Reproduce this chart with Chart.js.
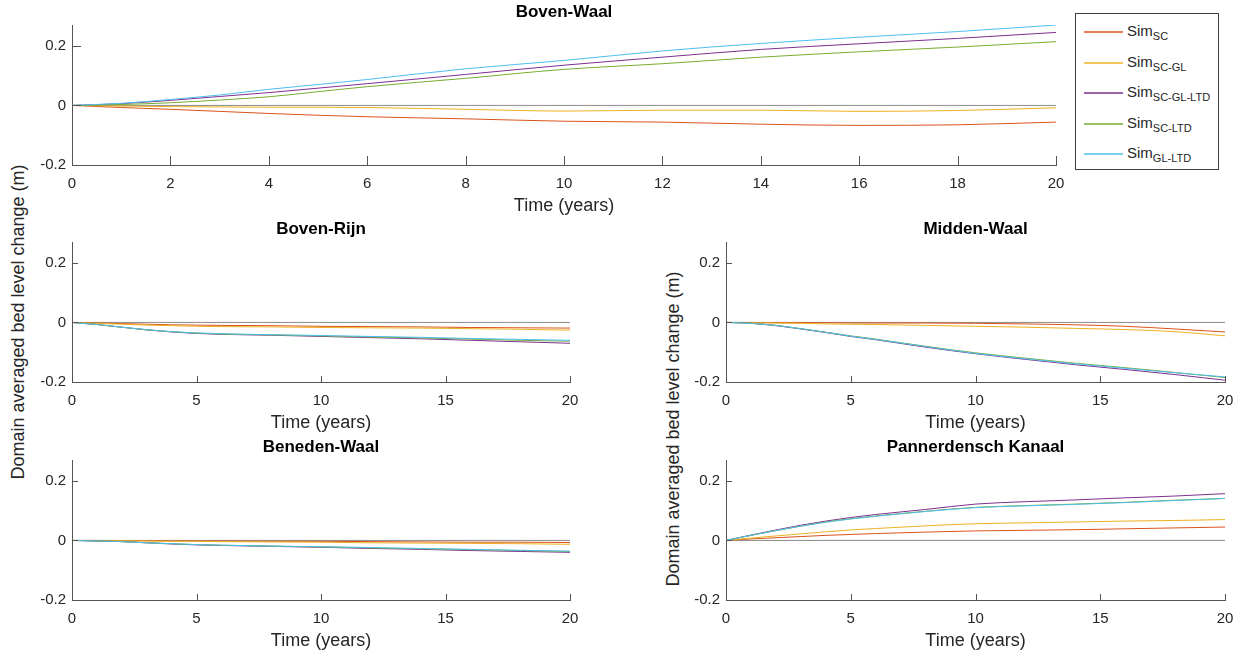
<!DOCTYPE html>
<html>
<head>
<meta charset="utf-8">
<script src="https://cdn.jsdelivr.net/npm/chart.js@4.4.1/dist/chart.umd.min.js"></script>
<style>
  body { margin: 0; background: #fff; width: 1242px; height: 655px; position: relative; overflow: hidden;
         font-family: "Liberation Sans", Arial, sans-serif; }
  canvas { position: absolute; }
  .ylab { position: absolute; width: 400px; height: 22px; line-height: 22px; text-align: center;
          font-size: 18px; color: #262626; transform: rotate(-90deg); white-space: nowrap; }
  #legend { position: absolute; left: 1075px; top: 13px; width: 142px; height: 155px; border: 1px solid #404040; background: #fff; }
  .item { position: absolute; left: 0; width: 142px; height: 20px; }
  .swatch { position: absolute; left: 8px; top: 10px; width: 39px; height: 2px; opacity: 0.75; }
  .txt { position: absolute; left: 51px; top: 0; font-size: 15px; line-height: 20px; color: #262626; white-space: nowrap; }
  .txt sub { font-size: 11px; vertical-align: -4px; line-height: 0; }
</style>
</head>
<body>
<div class="ylab" style="left:-182px; top:311px;">Domain averaged bed level change (m)</div>
<div class="ylab" style="left:473px; top:418px;">Domain averaged bed level change (m)</div>
<div id="legend"></div>

<script>
// tijdstappen (jaren)
const years = [0, 1, 2, 3, 4, 5, 6, 8, 10, 12, 14, 16, 18, 20];

// reeksen: SC, SC-GL, SC-GL-LTD, SC-LTD, GL-LTD
const seriesNames = ['SC', 'SC-GL', 'SC-GL-LTD', 'SC-LTD', 'GL-LTD'];
const seriesColors = ['#D95319', '#EDB120', '#7E2F8E', '#77AC30', '#4DBEEE'];

const bovenWaal = [
    [0, -0.007, -0.013, -0.020, -0.027, -0.033, -0.038, -0.045, -0.053, -0.056, -0.063, -0.067, -0.065, -0.056],
    [0, -0.002, -0.004, -0.005, -0.006, -0.006, -0.007, -0.013, -0.019, -0.016, -0.016, -0.020, -0.017, -0.008],
    [0, 0.006, 0.017, 0.030, 0.043, 0.058, 0.073, 0.104, 0.135, 0.162, 0.188, 0.207, 0.225, 0.245],
    [0, 0.003, 0.009, 0.018, 0.029, 0.046, 0.063, 0.091, 0.121, 0.140, 0.162, 0.180, 0.196, 0.214],
    [0, 0.007, 0.020, 0.035, 0.054, 0.070, 0.087, 0.123, 0.151, 0.183, 0.208, 0.229, 0.248, 0.270]
];
const bovenRijn = [
    [0, -0.002, -0.004, -0.006, -0.008, -0.009, -0.010, -0.011, -0.013, -0.014, -0.015, -0.017, -0.018, -0.019],
    [0, -0.003, -0.006, -0.009, -0.011, -0.013, -0.014, -0.015, -0.017, -0.018, -0.019, -0.021, -0.023, -0.026],
    [0, -0.007, -0.016, -0.025, -0.032, -0.037, -0.040, -0.043, -0.047, -0.051, -0.055, -0.060, -0.065, -0.070],
    [0, -0.007, -0.016, -0.025, -0.031, -0.036, -0.039, -0.042, -0.045, -0.049, -0.052, -0.056, -0.060, -0.063],
    [0, -0.007, -0.016, -0.024, -0.031, -0.035, -0.038, -0.041, -0.044, -0.047, -0.050, -0.054, -0.057, -0.060]
];
const middenWaal = [
    [0, 0, -0.001, -0.001, -0.001, -0.002, -0.002, -0.002, -0.003, -0.005, -0.008, -0.013, -0.022, -0.032],
    [0, -0.001, -0.002, -0.003, -0.005, -0.006, -0.007, -0.010, -0.013, -0.016, -0.020, -0.024, -0.031, -0.045],
    [0, -0.003, -0.011, -0.022, -0.034, -0.047, -0.058, -0.083, -0.105, -0.124, -0.142, -0.158, -0.175, -0.194],
    [0, -0.003, -0.010, -0.021, -0.033, -0.045, -0.056, -0.080, -0.102, -0.120, -0.137, -0.152, -0.168, -0.185],
    [0, -0.003, -0.010, -0.021, -0.033, -0.046, -0.057, -0.081, -0.104, -0.122, -0.139, -0.154, -0.169, -0.183]
];
const benedenWaal = [
    [0, 0, -0.001, -0.001, -0.002, -0.002, -0.002, -0.003, -0.003, -0.004, -0.005, -0.006, -0.006, -0.007],
    [0, -0.001, -0.001, -0.002, -0.003, -0.003, -0.004, -0.005, -0.006, -0.008, -0.009, -0.010, -0.011, -0.013],
    [0, -0.002, -0.004, -0.008, -0.012, -0.015, -0.017, -0.020, -0.023, -0.027, -0.030, -0.034, -0.037, -0.040],
    [0, -0.002, -0.004, -0.008, -0.011, -0.014, -0.016, -0.019, -0.022, -0.025, -0.028, -0.031, -0.034, -0.037],
    [0, -0.002, -0.004, -0.008, -0.011, -0.014, -0.016, -0.019, -0.021, -0.024, -0.027, -0.030, -0.033, -0.036]
];
const pannerdenschKanaal = [
    [0, 0.005, 0.009, 0.013, 0.017, 0.020, 0.023, 0.028, 0.032, 0.034, 0.036, 0.039, 0.042, 0.045],
    [0, 0.008, 0.015, 0.022, 0.029, 0.035, 0.040, 0.049, 0.056, 0.059, 0.062, 0.065, 0.067, 0.070],
    [0, 0.018, 0.035, 0.051, 0.065, 0.077, 0.087, 0.104, 0.122, 0.130, 0.136, 0.143, 0.149, 0.157],
    [0, 0.017, 0.033, 0.048, 0.062, 0.073, 0.082, 0.098, 0.111, 0.117, 0.122, 0.128, 0.135, 0.141],
    [0, 0.017, 0.033, 0.048, 0.061, 0.072, 0.081, 0.097, 0.110, 0.116, 0.121, 0.127, 0.134, 0.141]
];

const zeroX = [0, 20];
const zeroY = [0, 0];
const yTicks = [-0.2, 0, 0.2];
const yMin = -0.2;
const yMax = 0.27;

const axisColor = '#555555';
const textColor = '#262626';
Chart.defaults.font.family = '"Liberation Sans", Arial, sans-serif';

// box = [links, boven, rechts, onder] van het assenvlak
const panels = [
    { title: 'Boven-Waal', data: bovenWaal, step: 2, box: [72, 25, 1056, 165], tick: 9 },
    { title: 'Boven-Rijn', data: bovenRijn, step: 5, box: [72, 242, 570, 382], tick: 6 },
    { title: 'Midden-Waal', data: middenWaal, step: 5, box: [726, 242, 1225, 382], tick: 6 },
    { title: 'Beneden-Waal', data: benedenWaal, step: 5, box: [72, 460, 570, 600], tick: 6 },
    { title: 'Pannerdensch Kanaal', data: pannerdenschKanaal, step: 5, box: [726, 460, 1225, 600], tick: 6 }
];

const inwardTicks = {
    id: 'inwardTicks',
    afterDraw(chart, args, opts) {
        const { ctx, chartArea: a, scales: { x, y } } = chart;
        ctx.save();
        ctx.strokeStyle = axisColor;
        ctx.lineWidth = 1;
        ctx.beginPath();
        x.ticks.forEach(t => {
            const px = Math.round(x.getPixelForValue(t.value)) + 0.5;
            ctx.moveTo(px, a.bottom);
            ctx.lineTo(px, a.bottom - opts.len);
        });
        y.ticks.forEach(t => {
            const py = Math.round(y.getPixelForValue(t.value)) + 0.5;
            ctx.moveTo(a.left, py);
            ctx.lineTo(a.left + opts.len, py);
        });
        ctx.stroke();
        ctx.restore();
    }
};

function maakPaneel(p) {
    const [L, T, R, B] = p.box;
    const w = R - L + 60 + 15;
    const h = B - T + 25 + 55;
    const canvas = document.createElement('canvas');
    canvas.width = w;
    canvas.height = h;
    canvas.style.left = (L - 60) + 'px';
    canvas.style.top = (T - 25) + 'px';
    canvas.style.width = w + 'px';
    canvas.style.height = h + 'px';
    document.body.appendChild(canvas);

    const datasets = p.data.map((vals, i) => ({
        label: 'Sim ' + seriesNames[i],
        data: years.map((x, j) => ({ x: x, y: vals[j] })),
        borderColor: seriesColors[i],
        borderWidth: 1,
        pointRadius: 0,
        cubicInterpolationMode: 'monotone',
        order: 4 - i
    }));
    datasets.push({
        label: 'nul',
        data: zeroX.map((x, j) => ({ x: x, y: zeroY[j] })),
        borderColor: '#8c8c8c',
        borderWidth: 1,
        pointRadius: 0,
        order: 10
    });

    return new Chart(canvas.getContext('2d'), {
        type: 'line',
        data: { datasets: datasets },
        options: {
            responsive: false,
            animation: false,
            devicePixelRatio: 1,
            layout: { padding: { left: 0, right: 15, top: 0, bottom: 0 } },
            plugins: {
                legend: { display: false },
                tooltip: { enabled: false },
                inwardTicks: { len: p.tick },
                title: {
                    display: true,
                    text: p.title,
                    fullSize: false,
                    color: '#000',
                    font: { size: 17, weight: 'bold', lineHeight: 1 },
                    padding: { top: 4, bottom: 4 }
                }
            },
            scales: {
                x: {
                    type: 'linear',
                    min: 0,
                    max: 20,
                    grid: { display: false, drawTicks: false },
                    border: { display: true, color: axisColor },
                    ticks: { stepSize: p.step, autoSkip: false, maxRotation: 0, padding: 10, color: textColor, font: { size: 15 } },
                    title: { display: true, text: 'Time (years)', color: textColor, font: { size: 18 }, padding: { top: 0, bottom: 3 } },
                    afterFit: s => { s.height = 55; s.paddingLeft = 0; s.paddingRight = 0; }
                },
                y: {
                    min: yMin,
                    max: yMax,
                    grid: { display: false, drawTicks: false },
                    border: { display: true, color: axisColor },
                    ticks: {
                        padding: 6,
                        color: textColor,
                        font: { size: 15 },
                        callback: v => (v === 0 ? '0' : v.toFixed(1))
                    },
                    afterBuildTicks: s => { s.ticks = yTicks.map(v => ({ value: v })); },
                    afterFit: s => { s.width = 60; s.paddingTop = 0; s.paddingBottom = 0; }
                }
            }
        },
        plugins: [inwardTicks]
    });
}

function maakLegenda() {
    const box = document.getElementById('legend');
    seriesNames.forEach((name, i) => {
        const item = document.createElement('div');
        item.className = 'item';
        item.style.top = (7 + i * 30.5) + 'px';
        item.innerHTML = '<div class="swatch" style="background:' + seriesColors[i] + '"></div>' +
            '<div class="txt">Sim<sub>' + name + '</sub></div>';
        box.appendChild(item);
    });
}

panels.forEach(maakPaneel);
maakLegenda();
</script>
</body>
</html>
